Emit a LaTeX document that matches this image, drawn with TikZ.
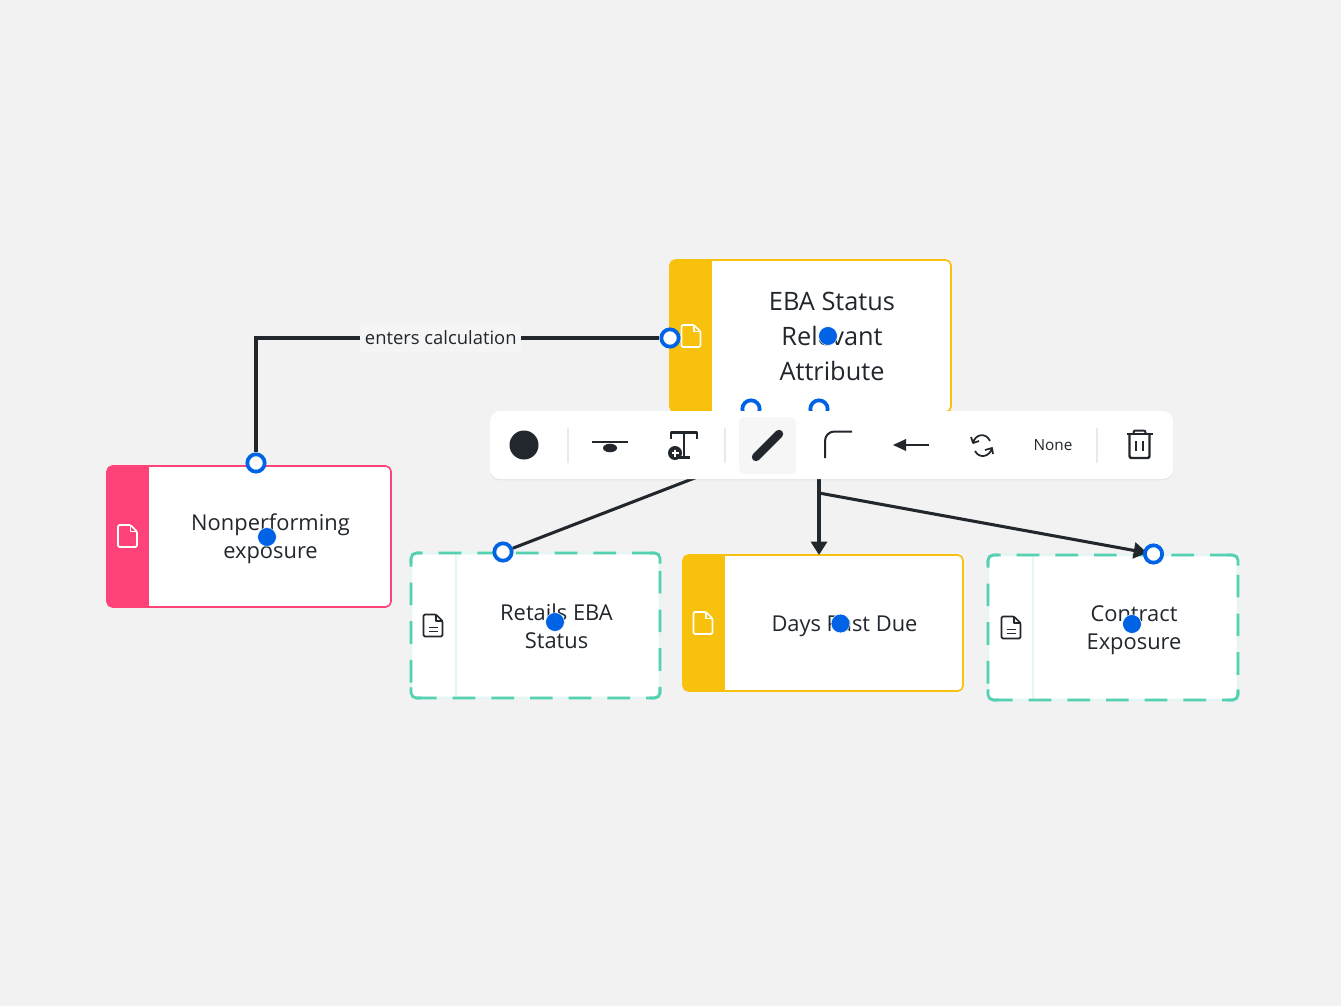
\documentclass[tikz,border=0pt]{standalone}
\usepackage{fontspec}
\setmainfont{Open Sans}
\usetikzlibrary{arrows.meta, shadows}
\pgfdeclarelayer{handles}
\pgfsetlayers{main,handles}
\definecolor{inkdark}{HTML}{22272E}
\definecolor{canvasgrey}{HTML}{F2F2F2}
\definecolor{amber}{HTML}{F7C10D}
\definecolor{rose}{HTML}{FF4378}
\definecolor{teal}{HTML}{54D1B2}
\definecolor{palteal}{HTML}{E6F6F3}
\definecolor{handleblue}{HTML}{0063E6}
\definecolor{sepgrey}{HTML}{E9E9E9}
\tikzset{
	card/.style={rectangle, rounded corners=4pt, line width=1.2pt, inner sep=0pt, outer sep=0pt},
	stripecard/.style={
			card, draw=#1, fill=white,
			path picture={\fill[#1, sharp corners] (path picture bounding box.north west) rectangle ([xshift=31.5pt]path picture bounding box.south west);},
		},
	dashcard/.style={
			card, line width=2pt, draw=teal, dash pattern=on 17pt off 12pt,
			preaction={draw=palteal, solid, fill=white},
			path picture={\draw[palteal, solid, line width=1.4pt] ([xshift=33.75pt]path picture bounding box.north west) -- ([xshift=33.75pt]path picture bounding box.south west);},
		},
	cardcorner/.style={draw=teal, line width=2pt, rounded corners=4pt},
	cardtext/.style={align=center, text=inkdark, font=\fontsize{16.4}{21}\selectfont},
	handle/.style={circle, draw=handleblue, fill=white, line width=2.8pt, minimum size=13pt, inner sep=0pt},
	dragdot/.style={circle, fill=handleblue, draw=white, line width=.3pt, minimum size=14pt, inner sep=0pt},
	connector/.style={draw=inkdark, line width=2.3pt},
	arrowed/.style={connector, -{Triangle[width=12pt, length=10pt]}},
	toolicon/.style={draw=inkdark, line width=1.5pt},
	toolsep/.style={draw=sepgrey, line width=1.4pt},
	pics/docpage/.style={
			code={
					\draw[#1, line width=1.3pt, line join=round, rounded corners=1pt] (-9.5,-11) -- (3,-11) -- (9.5,-4.5) -- (9.5,11) -- (-9.5,11) -- cycle;
					\draw[#1, line width=1.1pt, line join=round] (3,-11) -- (3,-4.5) -- (9.5,-4.5);
				},
		},
	pics/docnote/.style={
			code={
					\pic {docpage=inkdark};
					\draw[inkdark, line width=1.3pt] (-4.5,2) -- (4.5,2) (-4.5,6) -- (4.5,6);
				},
		},
}
\newcommand{\cardcorners}[1]{
	\draw [cardcorner] ([xshift=8pt]#1.north west) -- (#1.north west) -- ([yshift=-8pt]#1.north west);
	\draw [cardcorner] ([xshift=-8pt]#1.north east) -- (#1.north east) -- ([yshift=-8pt]#1.north east);
	\draw [cardcorner] ([xshift=8pt]#1.south west) -- (#1.south west) -- ([yshift=8pt]#1.south west);
	\draw [cardcorner] ([xshift=-8pt]#1.south east) -- (#1.south east) -- ([yshift=8pt]#1.south east);
}

\begin{document}
\begin{tikzpicture}[x=.75pt, y=-.75pt]
	\fill[canvasgrey] (0,0) rectangle (1341,1006);
	\useasboundingbox (0,0) rectangle (1341,1006);

	\node [stripecard=amber, minimum width=210.75pt, minimum height=114pt] (eba) at (810.5,336) {};
	\node [stripecard=rose, minimum width=213pt, minimum height=105.75pt] (nonperf) at (249,536.5) {};
	\node [dashcard, minimum width=186.75pt, minimum height=108.75pt] (retail) at (535.5,625.5) {};
	\node [stripecard=amber, minimum width=210pt, minimum height=102pt] (days) at (823,623) {};
	\node [dashcard, minimum width=187.5pt, minimum height=108.75pt] (contract) at (1113,627.5) {};
	\cardcorners{retail}
	\cardcorners{contract}

	\node [cardtext, font=\fontsize{19}{26.5}\selectfont] (ebatext) at (832,336.5) {EBA Status\\Relevant\\Attribute};
	\node [cardtext] (nonperftext) at (270.5,539) {Nonperforming\\exposure};
	\node [cardtext] (retailtext) at (556.5,626) {Retails EBA\\Status};
	\node [cardtext] (daystext) at (844.5,626) {Days Past Due};
	\node [cardtext] (contracttext) at (1134,630) {Contract\\Exposure};

	\pic at (691,336) {docpage=white};
	\pic at (127.5,536) {docpage=white};
	\pic at (703,623) {docpage=white};
	\pic at (433,625.5) {docnote};
	\pic at (1011,627.5) {docnote};

	\begin{pgfonlayer}{handles}
		\node [handle] (hnonperf) at (256,463) {};
		\node [handle] (heba) at (670,338) {};
		\node [handle] (hretail) at (503,552) {};
		\node [handle] (hcontract) at (1153.5,554) {};
	\end{pgfonlayer}
	\node [handle] (hleft) at (751,409) {};
	\node [handle] (hright) at (819,409) {};
	\coordinate (fork) at (819,430);
	\coordinate (branch) at (819,493);

	\draw [connector] (hnonperf) |- node [pos=.729, fill=canvasgrey!75!white, inner xsep=3.5pt, inner ysep=5pt, text=inkdark, font=\fontsize{13.8}{17}\selectfont] (edgelabel) {enters calculation} (heba);
	\draw [connector] (fork) -- (hretail);
	\draw [arrowed] (hright) -- (hright |- days.north);
	\draw [arrowed, shorten >=-3pt] (branch) -- (hcontract);

	\node [rectangle, rounded corners=7.5pt, fill=white, minimum width=512.25pt, minimum height=51pt, drop shadow={shadow xshift=0pt, shadow yshift=-1pt, fill=black, opacity=.05}] (toolbar) at (831.5,445) {};
	\node [circle, fill=inkdark, minimum size=21.75pt, inner sep=0pt] (fillicon) at (524,445) {};
	\draw [toolsep] (568,428) -- (568,463);
	\draw [toolsep] (725,428) -- (725,463);
	\draw [toolsep] (1097,428) -- (1097,463);

	\draw [toolicon] (592,441.5) -- (628,441.5);
	\fill [inkdark] (610,448) ellipse [x radius=5.25pt, y radius=3.2pt];

	\draw [toolicon, line width=1.8pt, line join=round] (671,439) -- (671,432.5) -- (697,432.5) -- (697,439);
	\draw [toolicon, line width=1.8pt] (684,432.5) -- (684,457.5) (679,457.5) -- (690,457.5);
	\node [circle, fill=inkdark, minimum size=10.5pt, inner sep=0pt] (plusicon) at (675,453) {};
	\draw [white, line width=.8pt] (671.5,453) -- (678.5,453) (675,449.5) -- (675,456.5);

	\node [rectangle, rounded corners=4.5pt, fill=canvasgrey!70!white, minimum width=42.75pt, minimum height=42.75pt] (activetool) at (767.5,445.5) {};
	\draw [inkdark, line width=6.3pt, line cap=round] (756,457) -- (779,434);

	\draw [toolicon, rounded corners=7pt] (825,458) -- (825,431.5) -- (852,431.5);

	\draw [toolicon] (929,445) -- (903,445);
	\fill [inkdark] (893,445) -- (906,439) -- (906,451) -- cycle;

	\draw [draw=inkdark, line width=1.3pt, line join=round] (971,437) -- (973,443) -- (979,441) (973,443) .. controls (975,434) and (986,432) .. (990,441);
	\draw [draw=inkdark, line width=1.3pt, line join=round] (993,454) -- (992,448) -- (985,450) (992,448) .. controls (990,457) and (979,459) .. (975,451);

	\node [text=inkdark, font=\fontsize{11.5}{14}\selectfont] (nonetext) at (1053,445) {None};

	\draw [toolicon, line width=1.8pt, rounded corners=1.5pt] (1129.5,434) -- (1129.5,458) -- (1149.5,458) -- (1149.5,434);
	\draw [toolicon, line width=1.8pt] (1126.5,434) -- (1152.5,434);
	\draw [toolicon, rounded corners=1.5pt] (1133.5,434) -- (1133.5,430.5) -- (1145.5,430.5) -- (1145.5,434);
	\draw [toolicon] (1136,441) -- (1136,451) (1143,441) -- (1143,451);

	\node [dragdot] (dotnonperf) at (267,537) {};
	\node [dragdot] (doteba) at (828,336) {};
	\node [dragdot] (dotretail) at (555,622) {};
	\node [dragdot] (dotdays) at (840.5,623.5) {};
	\node [dragdot] (dotcontract) at (1132,624) {};
\end{tikzpicture}
\end{document}
